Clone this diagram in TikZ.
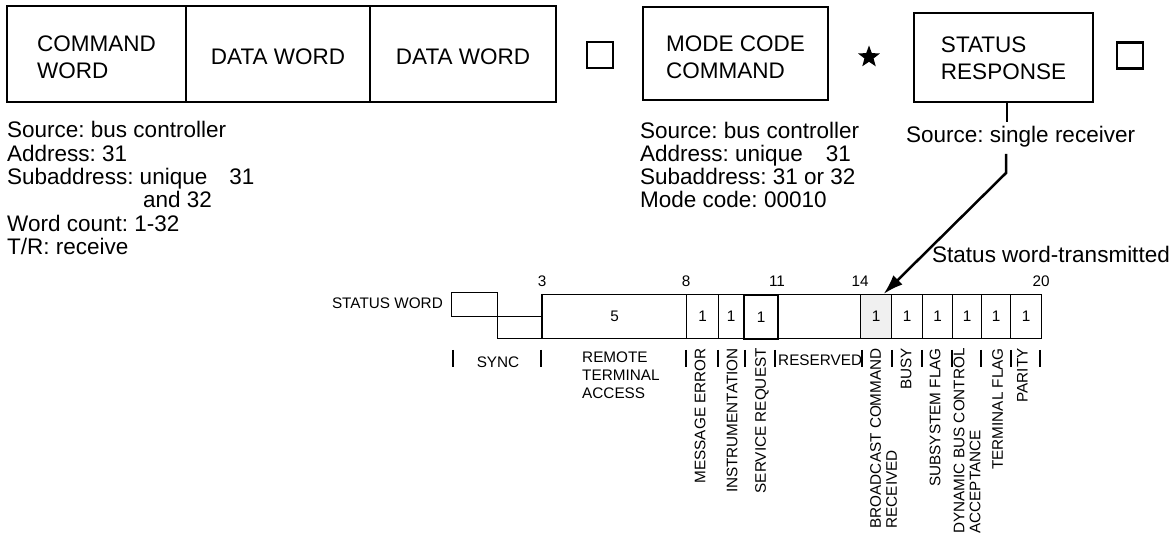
\documentclass[tikz,border=0pt]{standalone}
\usepackage{fontspec}
\setmainfont{Liberation Sans}
\frenchspacing
\usetikzlibrary{shapes.geometric,arrows.meta}
\begin{document}
\begin{tikzpicture}[x=1pt,y=-1pt,
  big/.style={font=\fontsize{22.5}{27}\selectfont, inner sep=0pt},
  small/.style={font=\fontsize{15.3}{16}\selectfont, inner sep=0pt},
  heavybox/.style={draw, line width=2.8pt, inner sep=0pt},
  boxtext/.style={big, align=left},
  sqbox/.style={draw, line width=2.8pt, minimum width=26pt, minimum height=26pt, inner sep=0pt},
  field/.style={draw, line width=1.2pt, small, minimum height=44pt, anchor=north west, inner sep=0pt},
  tick/.style={line width=1.3pt},
  vlabel/.style={small, rotate=90, align=left, anchor=north east},
  link/.style={line width=2.5pt},
]
\useasboundingbox (0,0) rectangle (1175,534);

% ---- top row ----
\node[heavybox, minimum width=179pt, minimum height=96pt] (cmd) at (96.5,54) {};
\node[heavybox, minimum width=184pt, minimum height=96pt] (dw1) at (278,54) {};
\node[heavybox, minimum width=186pt, minimum height=96pt] (dw2) at (463,54) {};
\node[boxtext] (cmdt) at ([yshift=-3pt]cmd.center) {COMMAND\\WORD};
\node[boxtext] (dw1t) at ([yshift=-3pt]dw1.center) {DATA WORD};
\node[boxtext] (dw2t) at ([yshift=-3pt]dw2.center) {DATA WORD};
\node[sqbox] (sq1) at (600,55) {};
\node[heavybox, minimum width=185pt, minimum height=93pt] (mode) at (735.5,53.5) {};
\node[boxtext] (modet) at ([yshift=-4pt]mode.center) {MODE CODE\\COMMAND};
\node[star, star points=5, star point ratio=2.4, fill=black, minimum size=23pt, inner sep=0pt] (st) at (869,57) {};
\node[heavybox, minimum width=179pt, minimum height=89pt] (status) at (1003.5,57.5) {};
\node[boxtext] (statust) at ([yshift=-1pt]status.center) {STATUS\\RESPONSE};
\node[sqbox] (sq2) at (1130,55.5) {};

% ---- left text block ----
\node[big, anchor=base west] (l1) at (7,138) {Source: bus controller};
\node[big, anchor=base west] (l2) at (7,161.5) {Address: 31};
\node[big, anchor=base west] (l3) at (7,185) {Subaddress: unique\hspace{22pt}31};
\node[big, anchor=base west] (l4) at (143,208) {and 32};
\node[big, anchor=base west] (l5) at (7,231.5) {Word count: 1-32};
\node[big, anchor=base west] (l6) at (7,255) {T/R: receive};

% ---- mode code text block ----
\node[big, anchor=base west] (m1) at (640,138.5) {Source: bus controller};
\node[big, anchor=base west] (m2) at (640,162) {Address: unique\hspace{23pt}31};
\node[big, anchor=base west] (m3) at (640,185) {Subaddress: 31 or 32};
\node[big, anchor=base west] (m4) at (640,208) {Mode code: 00010};

% ---- status response text ----
\node[big, anchor=base west] (src) at (906,143) {Source: single receiver};
\node[big, anchor=base east] (swt) at (1170,263) {Status word-transmitted};

% ---- status word field ----
\node[small, anchor=base east] (swl) at (443,308.5) {STATUS WORD};
\node[draw, line width=1.2pt, minimum width=46pt, minimum height=24pt, anchor=north west, inner sep=0pt] (sy1) at (451,292) {};
\node[draw, line width=1.2pt, minimum width=45pt, minimum height=22pt, anchor=north west, inner sep=0pt] (sy2) at (497,316) {};
\node[field, minimum width=144pt] (c3) at (542,294) {5};
\node[field, minimum width=32pt] (c8) at (686,294) {1};
\node[field, minimum width=25pt] (c9) at (718,294) {1};
\node[field, minimum width=34pt, line width=2.2pt] (c10) at (743,294) {1};
\node[field, minimum width=83pt] (cres) at (777,294) {};
\node[field, minimum width=31pt, fill={rgb,255:red,240;green,240;blue,240}] (c14) at (860,294) {1};
\node[field, minimum width=31pt] (c15) at (891,294) {1};
\node[field, minimum width=30pt] (c16) at (922,294) {1};
\node[field, minimum width=29pt] (c17) at (952,294) {\raisebox{-2.5pt}{1}};
\node[field, minimum width=29pt] (c18) at (981,294) {1};
\node[field, minimum width=31pt] (c19) at (1010,294) {1};
\draw[line width=2.2pt] (c3.north west) -- (c3.south west);

% bit numbers
\node[small, anchor=base] (n3) at (542,287) {3};
\node[small, anchor=base] (n8) at (686,287) {8};
\node[small, anchor=base] (n11) at (777,287) {11};
\node[small, anchor=base] (n14) at (860,287) {14};
\node[small, anchor=base] (n20) at (1041,287) {20};

% ticks
\foreach \tx in {453,541,686,718,745,775,862,892,922,952,981,1011,1040}
  \draw[tick] (\tx,350) -- (\tx,367);

% field labels
\node[small, anchor=base] (lsync) at (498,367.5) {SYNC};
\node[small, align=left, anchor=north west, font=\fontsize{15.3}{18}\selectfont] (lrta) at (582,351.5) {REMOTE\\TERMINAL\\ACCESS};
\node[small, anchor=base west] (lres) at (778,365.5) {RESERVED};
\node[vlabel] (lme) at (694.5,348) {MESSAGE ERROR};
\node[vlabel] (lin) at (726.5,348) {INSTRUMENTATION};
\node[vlabel] (lsr) at (755,348) {SERVICE REQUEST};
\node[vlabel] (lbc) at (870,348) {BROADCAST COMMAND\\RECEIVED};
\node[vlabel] (lbu) at (900.5,348) {BUSY};
\node[vlabel] (lss) at (929.5,348) {SUBSYSTEM FLAG};
\node[vlabel] (ldb) at (953.5,348) {DYNAMIC BUS CONTROL\\ACCEPTANCE};
\node[vlabel] (ltf) at (992,348) {TERMINAL FLAG};
\node[vlabel] (lpa) at (1017,348) {PARITY};

% ---- connectors ----
\coordinate (s1) at (1007,122);
\coordinate (s2) at (1006,154);
\coordinate (bend) at (1006,173);
\draw[link] (status.south -| s1) -- (s1);
\draw[link, -{Latex[length=20pt,width=13pt]}] (s2) -- (bend) -- ([xshift=7.5pt]c14.north);
\end{tikzpicture}
\end{document}
